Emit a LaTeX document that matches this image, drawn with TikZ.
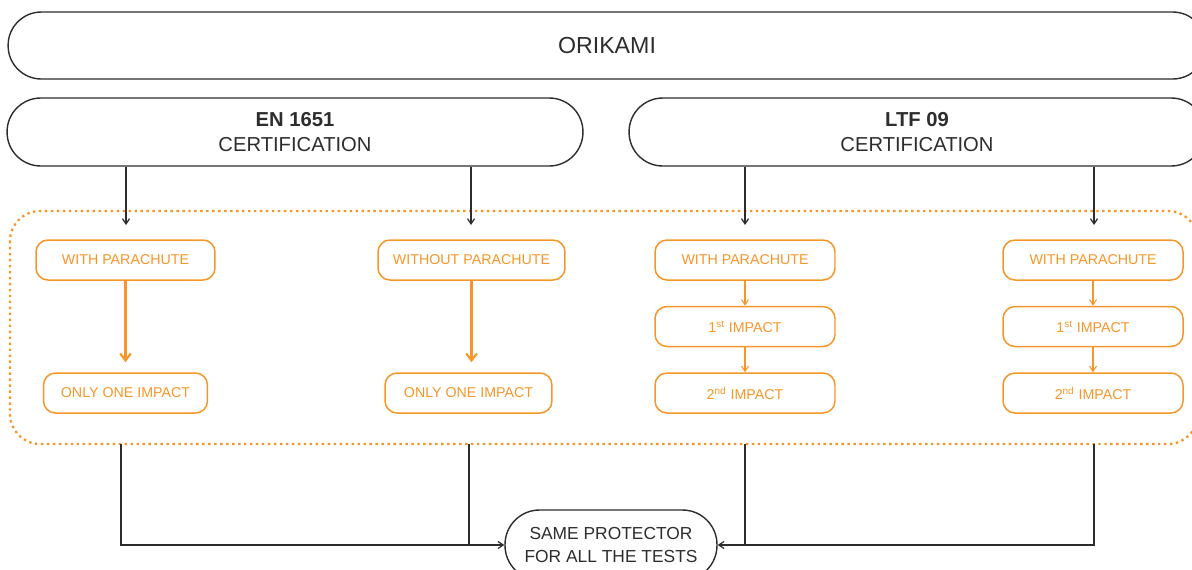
\documentclass[tikz,border=0pt]{standalone}
\usepackage{fontspec}
\setmainfont{Liberation Sans}
\usetikzlibrary{arrows.meta}
\definecolor{org}{RGB}{247,150,40}
\definecolor{ink}{RGB}{45,45,45}
\begin{document}
\begin{tikzpicture}[x=0.02cm,y=-0.02cm,
  bigbox/.style={draw=ink, line width=0.8pt, inner sep=0pt, align=center, text=ink,
     font=\fontsize{11.5}{14.7}\selectfont},
  obox/.style={draw=org, line width=0.85pt, rounded corners=0.24cm, inner sep=0pt,
     minimum height=0.8cm, text=org, font=\fontsize{8.1}{10}\selectfont},
  blk/.style={draw=ink, line width=0.7pt, -{Straight Barb[length=3pt,width=4pt]}},
  blkline/.style={draw=ink, line width=0.7pt},
  othick/.style={draw=org, line width=1.2pt, -{Straight Barb[length=4pt,width=6pt]}, shorten >=5.7pt},
  othin/.style={draw=org, line width=0.6pt, -{Straight Barb[length=3pt,width=4pt]}},
  dotbox/.style={draw=org, line width=1.3pt, dash pattern=on 1.4pt off 2pt, rounded corners=0.6cm}
]
\useasboundingbox (0,0) rectangle (1192,569);
\clip (0,0) rectangle (1192,569);

% top boxes
\node[bigbox, rounded corners=0.665cm, minimum width=23.96cm, minimum height=1.34cm,
      font=\fontsize{13.2}{16}\selectfont] (ori) at (607,45.5) {ORIKAMI};
\node[bigbox, rounded corners=0.675cm, minimum width=11.52cm, minimum height=1.36cm] (en) at (295,132) {\textbf{EN 1651}\\CERTIFICATION};
\node[bigbox, rounded corners=0.675cm, minimum width=11.52cm, minimum height=1.36cm] (ltf) at (917,132) {\textbf{LTF 09}\\CERTIFICATION};

% dotted group
\draw[dotbox] (10,211) rectangle (1198,444);

% orange boxes
\node[obox, minimum width=3.58cm] (w1) at (125.5,260) {WITH PARACHUTE};
\node[obox, minimum width=3.28cm] (o1) at (125.5,393) {ONLY ONE IMPACT};
\node[obox, minimum width=3.74cm] (w2) at (471.5,260) {WITHOUT PARACHUTE};
\node[obox, minimum width=3.34cm] (o2) at (468.5,393) {ONLY ONE IMPACT};
\node[obox, minimum width=3.6cm] (w3) at (745,260) {WITH PARACHUTE};
\node[obox, minimum width=3.6cm] (i3) at (745,326.5) {1\textsuperscript{st} IMPACT};
\node[obox, minimum width=3.6cm] (s3) at (745,393) {2\textsuperscript{nd} IMPACT};
\node[obox, minimum width=3.6cm] (w4) at (1093,260) {WITH PARACHUTE};
\node[obox, minimum width=3.6cm] (i4) at (1093,326.5) {1\textsuperscript{st} IMPACT};
\node[obox, minimum width=3.6cm] (s4) at (1093,393) {2\textsuperscript{nd} IMPACT};

% bottom box
\node[bigbox, rounded corners=0.69cm, minimum width=4.24cm, minimum height=1.4cm,
      font=\fontsize{9.9}{13}\selectfont] (same) at (611,545) {SAME PROTECTOR\\FOR ALL THE TESTS};

% black arrows from certifications
\coordinate (t1) at (126,225);
\coordinate (t2) at (471,225);
\coordinate (t3) at (745,225);
\coordinate (t4) at (1094,225);
\draw[blk] (en.south -| t1) -- (t1);
\draw[blk] (en.south -| t2) -- (t2);
\draw[blk] (ltf.south -| t3) -- (t3);
\draw[blk] (ltf.south -| t4) -- (t4);

% orange arrows
\draw[othick] (w1.south) -- (o1.north);
\draw[othick] (w2.south) -- (w2.south |- o2.north);
\draw[othin] (w3) -- (i3);
\draw[othin] (i3) -- (s3);
\draw[othin] (w4) -- (i4);
\draw[othin] (i4) -- (s4);

% bottom connectors
\coordinate (b1) at (121,444);
\coordinate (b2) at (469,444);
\coordinate (b3) at (745,444);
\coordinate (b4) at (1094,444);
\draw[blk] (b1) |- (same.west);
\draw[blkline] (b2) -- (b2 |- same.west);
\draw[blk] (b4) |- (same.east);
\draw[blkline] (b3) -- (b3 |- same.east);
\end{tikzpicture}
\end{document}
